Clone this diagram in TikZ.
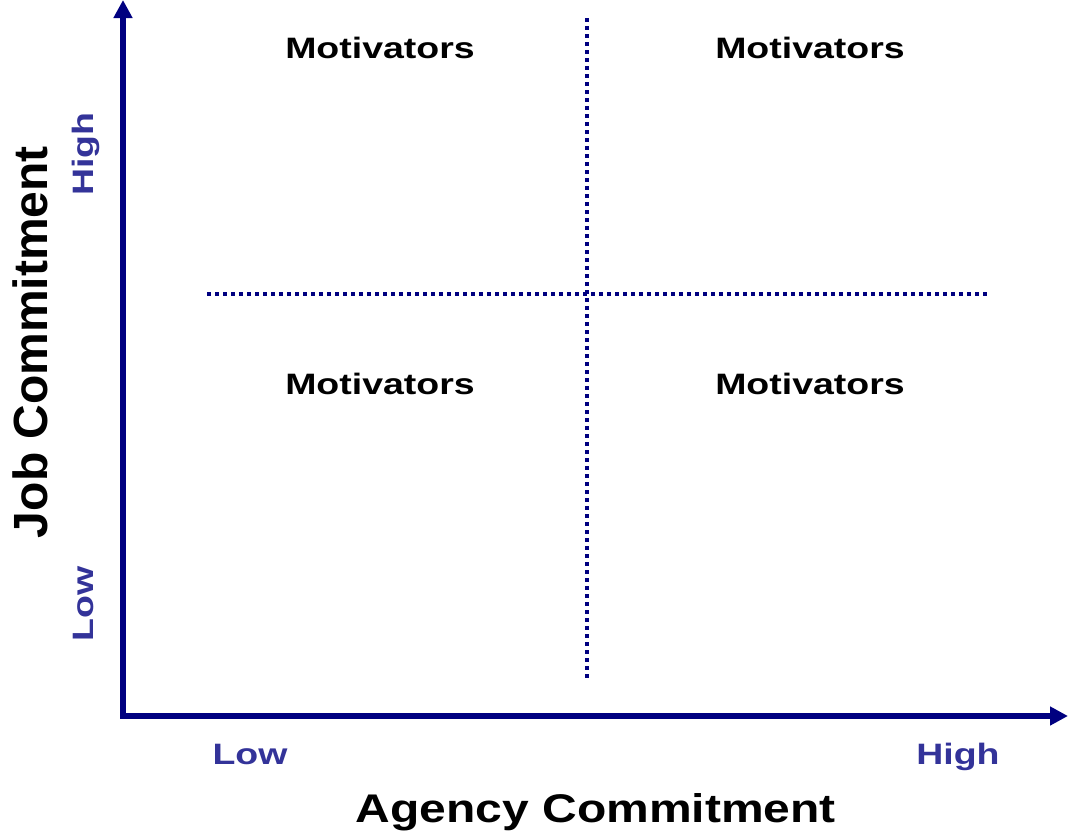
\documentclass[tikz,border=0pt]{standalone}
\usepackage{fontspec}
\setmainfont{Liberation Sans}
\usetikzlibrary{arrows.meta}
\definecolor{axisnavy}{HTML}{000080}
\definecolor{labelblue}{HTML}{333399}
% widened bold lettering
\newcommand{\widetext}[2][1.27]{\scalebox{#1}[1]{#2}}
\begin{document}
\begin{tikzpicture}[x=1pt,y=-1pt,
  axis/.style={draw=axisnavy, line width=5.5pt, line join=miter,
    {Triangle[length=18pt,width=18pt]}-{Triangle[length=18pt,width=18pt]}},
  quadrant/.style={draw=axisnavy, line width=4pt, dash pattern=on 4pt off 4pt},
  quadlabel/.style={font=\fontsize{29.5}{30}\selectfont\bfseries, anchor=base, inner sep=0pt},
  levellabel/.style={font=\fontsize{29.5}{30}\selectfont\bfseries, text=labelblue, anchor=base, inner sep=0pt},
  axistitle/.style={font=\bfseries, anchor=base, inner sep=0pt}]
\useasboundingbox (0,0) rectangle (1072,833);

% axes
\coordinate (origin) at (123,716);
\coordinate (ytip) at (123,0);
\coordinate (xtip) at (1068,716);
\draw[axis] (ytip) -- (origin) -- (xtip);

% quadrant dividers
\coordinate (vtop) at (587,18);
\coordinate (vbot) at (587,680);
\coordinate (hleft) at (207,294);
\coordinate (hright) at (989,294);
\draw[quadrant] (vtop) -- (vbot);
\draw[quadrant] (hleft) -- (hright);

% quadrant labels
\node[quadlabel] (tl) at (380,58) {\widetext{Motivators}};
\node[quadlabel] (tr) at (810,58) {\widetext{Motivators}};
\node[quadlabel] (bl) at (380,394) {\widetext{Motivators}};
\node[quadlabel] (br) at (810,394) {\widetext{Motivators}};

% level labels
\node[levellabel] (xlow) at (250,764) {\widetext{Low}};
\node[levellabel] (xhigh) at (958,764) {\widetext{High}};
\node[levellabel, rotate=90] (ylow) at (93,604) {\widetext{Low}};
\node[levellabel, rotate=90] (yhigh) at (93,154) {\widetext{High}};

% axis titles
\node[axistitle, font=\fontsize{40}{40}\selectfont\bfseries] (xtitle) at (596,822) {\widetext[1.2]{Agency Commitment}};
\node[axistitle, font=\fontsize{48}{48}\selectfont\bfseries, rotate=90] (ytitle) at (47,342) {\widetext[1.0]{Job Commitment}};
\end{tikzpicture}
\end{document}
